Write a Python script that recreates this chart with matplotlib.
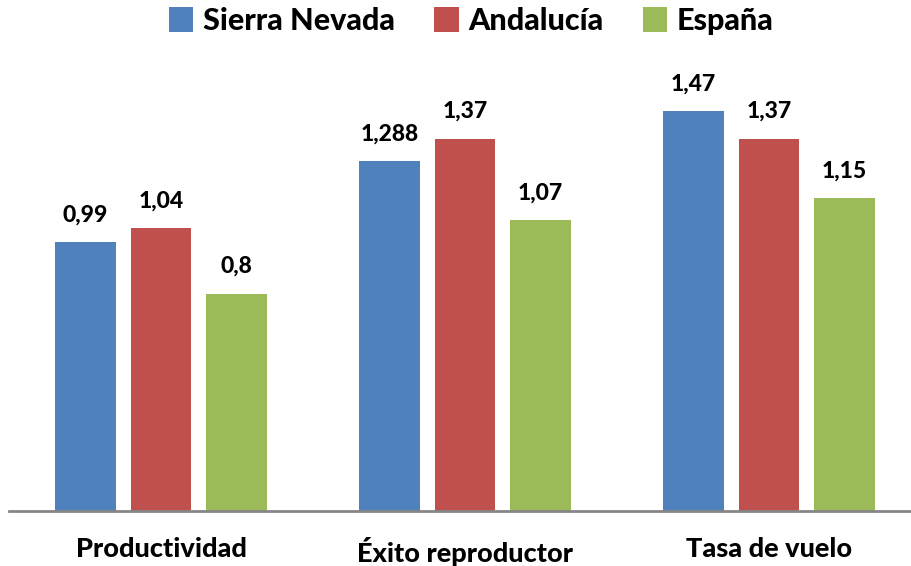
import matplotlib.pyplot as plt
import numpy as np

categories = ["Productividad", "Éxito reproductor", "Tasa de vuelo"]
series_names = ["Sierra Nevada", "Andalucía", "España"]
sierra = [0.99, 1.288, 1.47]
andalucia = [1.04, 1.37, 1.37]
espana = [0.8, 1.07, 1.15]
value_labels = [
    ["0,99", "1,288", "1,47"],
    ["1,04", "1,37", "1,37"],
    ["0,8", "1,07", "1,15"],
]
colors = ["#4F81BD", "#C0504D", "#9BBB59"]

plt.rcParams["font.family"] = ["Lato", "DejaVu Sans"]

W, H = 911, 566
fig = plt.figure(figsize=(W / 100, H / 100), dpi=100)
ax = fig.add_axes([9 / W, 55 / H, 902 / W, (511 - 76) / H])

x = np.arange(len(categories))
width = 0.2
step = 0.248
all_series = [sierra, andalucia, espana]
for i, (vals, name, col) in enumerate(zip(all_series, series_names, colors)):
    pos = x + (i - 1) * step
    bars = ax.bar(pos, vals, width, color=col, label=name, edgecolor="none")
    for b, lab in zip(bars, value_labels[i]):
        ax.annotate(lab, (b.get_x() + b.get_width() / 2, b.get_height()),
                    xytext=(0, 12), textcoords="offset points",
                    ha="center", va="bottom", fontsize=16.5, fontweight="black")

ax.set_xlim(-0.5, -0.5 + 902 / 304)
ax.set_ylim(0, 1.6)
ax.set_yticks([])
ax.set_xticks(x)
ax.set_xticklabels(categories, fontsize=19.5, fontweight="black")
ax.tick_params(axis="x", length=0, pad=19)
for s in ["top", "right", "left"]:
    ax.spines[s].set_visible(False)
ax.spines["bottom"].set_color("#868686")
ax.spines["bottom"].set_linewidth(2)

fig.legend(loc="center", bbox_to_anchor=(471 / W, 1 - 21 / H), ncol=3,
           frameon=False, handlelength=0.8, handleheight=0.9,
           handletextpad=0.3, columnspacing=1.3, borderaxespad=0,
           prop={"weight": "black", "size": 22})

fig.savefig("out.png", dpi=100)
